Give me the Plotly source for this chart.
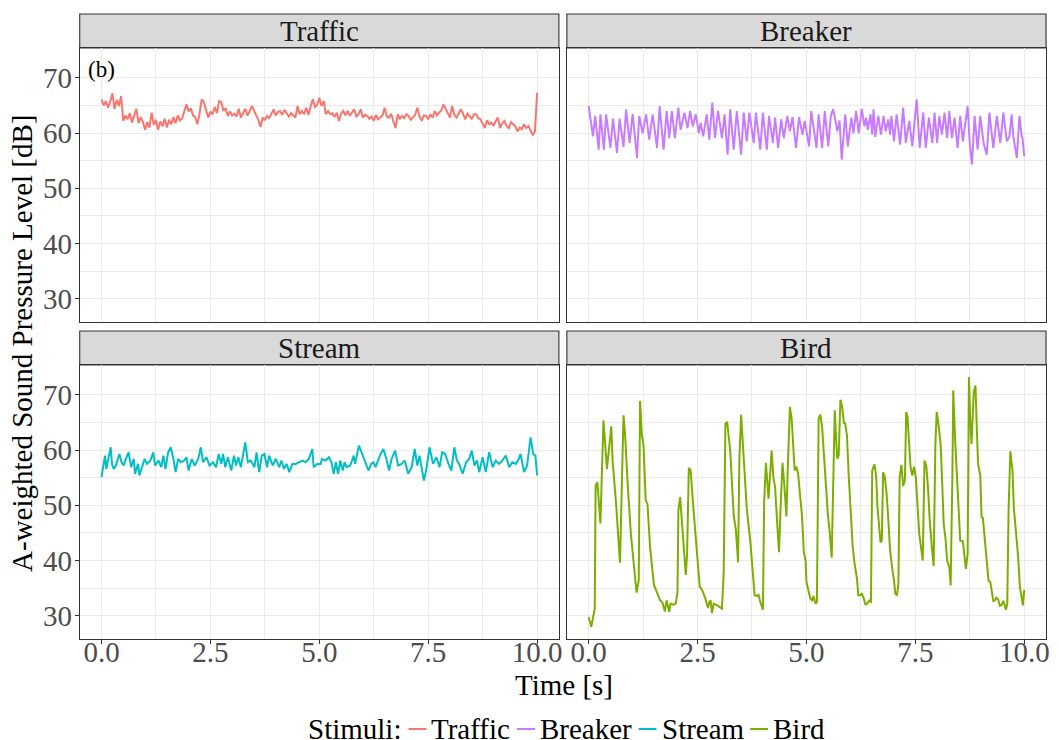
import numpy as np
import plotly.graph_objects as go

# ---------------- data ----------------
stimuli = ["Traffic", "Breaker", "Stream", "Bird"]
colors = ["#F8766D", "#C77CFF", "#00BFC4", "#7CAE00"]

traffic_t = np.round(np.linspace(0, 10, 201), 3)
traffic_v = [
    66.1, 65.0, 65.8, 64.6, 65.7, 67.2, 64.4, 66.0, 64.9, 66.7,
    62.2, 63.2, 62.5, 63.6, 61.9, 63.0, 64.4, 61.8, 62.9, 62.0,
    60.6, 62.0, 61.0, 63.7, 61.5, 62.4, 60.6, 62.1, 61.2, 62.6,
    61.0, 62.4, 61.6, 62.9, 61.8, 63.2, 62.3, 62.6, 63.8, 65.2,
    63.9, 64.5, 63.2, 62.9, 61.6, 63.5, 66.1, 65.6, 64.2, 62.8,
    63.9, 63.4, 64.7, 63.6, 65.8, 65.6, 64.0, 64.5, 63.1, 63.9,
    63.2, 63.5, 63.0, 64.4, 62.8, 63.6, 64.4, 63.2, 63.9, 64.9,
    64.0, 63.1, 62.4, 61.1, 62.8, 62.4, 63.1, 62.7, 63.6, 64.3,
    63.2, 63.8, 64.0, 63.3, 64.2, 63.7, 63.0, 63.6, 63.1, 62.8,
    64.9, 63.4, 64.0, 63.4, 64.6, 63.3, 64.8, 66.1, 64.7, 65.1,
    66.4, 64.9, 65.8, 63.4, 64.0, 63.4, 63.6, 62.9, 63.7, 62.2,
    63.5, 64.0, 63.2, 64.0, 63.1, 63.8, 64.3, 63.0, 63.4, 64.3,
    62.8, 63.3, 63.1, 62.6, 63.0, 62.2, 63.3, 62.5, 62.8, 63.2,
    64.6, 63.0, 62.8, 63.5, 62.1, 60.9, 63.4, 62.6, 63.1, 62.7,
    63.4, 63.1, 62.4, 62.8, 63.3, 64.6, 63.0, 62.2, 63.2, 63.1,
    62.5, 63.4, 62.8, 64.0, 63.2, 63.7, 64.1, 65.2, 64.4, 63.6,
    62.8, 64.9, 63.3, 62.8, 63.7, 64.3, 63.5, 62.5, 63.5, 63.1,
    62.6, 63.4, 63.4, 62.7, 62.5, 61.7, 60.9, 62.3, 61.6, 61.9,
    61.3, 62.2, 62.8, 60.9, 61.8, 62.2, 61.3, 60.9, 62.0, 61.6,
    61.2, 60.3, 61.0, 60.7, 61.6, 60.9, 61.3, 60.4, 59.7, 60.3,
    67.3,
]

breaker_t = [
    0.00, 0.10, 0.15, 0.23, 0.27, 0.35, 0.40, 0.50, 0.56, 0.65,
    0.71, 0.80, 0.86, 0.94, 1.01, 1.11, 1.16, 1.24, 1.32, 1.39,
    1.47, 1.57, 1.63, 1.72, 1.79, 1.85, 1.91, 1.98, 2.06, 2.11,
    2.20, 2.27, 2.33, 2.39, 2.46, 2.53, 2.57, 2.63, 2.71, 2.77,
    2.84, 2.90, 2.97, 3.06, 3.12, 3.19, 3.25, 3.33, 3.40, 3.50,
    3.56, 3.63, 3.69, 3.79, 3.84, 3.94, 4.00, 4.09, 4.14, 4.23,
    4.28, 4.35, 4.42, 4.48, 4.56, 4.62, 4.68, 4.76, 4.83, 4.91,
    4.96, 5.06, 5.11, 5.23, 5.28, 5.36, 5.42, 5.50, 5.56, 5.61,
    5.66, 5.71, 5.76, 5.81, 5.89, 5.95, 6.03, 6.08, 6.14, 6.20,
    6.27, 6.33, 6.37, 6.41, 6.47, 6.51, 6.54, 6.58, 6.65, 6.71,
    6.77, 6.82, 6.88, 6.92, 6.95, 7.01, 7.07, 7.15, 7.22, 7.28,
    7.36, 7.43, 7.49, 7.53, 7.60, 7.68, 7.74, 7.81, 7.89, 7.94,
    8.00, 8.05, 8.11, 8.17, 8.23, 8.28, 8.34, 8.40, 8.47, 8.53,
    8.59, 8.65, 8.70, 8.75, 8.80, 8.86, 8.93, 8.99, 9.07, 9.14,
    9.20, 9.29, 9.37, 9.45, 9.52, 9.60, 9.66, 9.71, 9.75, 9.83,
    9.89, 9.94, 9.96, 10.0,
]
breaker_v = [
    64.9, 59.4, 63.1, 57.0, 63.4, 57.0, 63.4, 57.3, 62.6, 56.4,
    62.6, 57.5, 64.3, 58.2, 63.5, 55.5, 63.1, 60.0, 63.4, 58.8,
    63.4, 57.3, 64.9, 57.0, 64.0, 59.1, 64.0, 59.1, 64.6, 60.6,
    63.7, 60.9, 64.0, 61.2, 63.4, 60.0, 61.9, 59.4, 63.4, 58.8,
    65.5, 59.1, 64.0, 59.1, 63.4, 56.1, 64.3, 57.0, 64.0, 56.1,
    63.7, 58.5, 63.7, 58.2, 63.7, 57.0, 63.7, 57.0, 63.1, 58.2,
    62.8, 57.3, 62.5, 59.1, 63.1, 60.3, 62.9, 57.3, 62.9, 59.7,
    62.2, 57.6, 64.0, 57.3, 63.4, 57.3, 64.0, 57.6, 63.1, 64.3,
    62.5, 60.3, 62.3, 55.2, 63.4, 57.6, 62.8, 60.0, 64.0, 60.0,
    64.4, 61.2, 62.8, 60.6, 63.4, 59.7, 64.3, 59.3, 63.1, 59.7,
    63.1, 60.3, 62.5, 59.7, 63.1, 58.5, 63.4, 57.9, 64.6, 58.2,
    62.2, 57.6, 62.8, 66.1, 57.3, 63.7, 57.3, 62.8, 58.2, 63.7,
    58.2, 63.1, 59.7, 63.7, 59.1, 64.0, 59.1, 62.8, 57.3, 63.1,
    58.5, 62.2, 64.9, 57.9, 54.3, 63.1, 57.0, 63.1, 58.0, 56.1,
    63.7, 57.3, 63.1, 58.2, 63.7, 58.5, 59.4, 63.4, 59.4, 55.5,
    63.1, 59.4, 59.1, 55.8,
]

stream_t = [
    0.00, 0.08, 0.11, 0.15, 0.21, 0.24, 0.28, 0.33, 0.41, 0.46,
    0.51, 0.56, 0.62, 0.68, 0.74, 0.77, 0.84, 0.87, 0.93, 0.99,
    1.04, 1.12, 1.19, 1.23, 1.31, 1.37, 1.42, 1.47, 1.53, 1.59,
    1.65, 1.70, 1.76, 1.82, 1.90, 1.95, 2.00, 2.07, 2.14, 2.22,
    2.28, 2.33, 2.41, 2.48, 2.56, 2.63, 2.69, 2.75, 2.79, 2.84,
    2.90, 2.98, 3.04, 3.09, 3.14, 3.20, 3.30, 3.36, 3.43, 3.51,
    3.56, 3.62, 3.68, 3.74, 3.80, 3.85, 3.93, 4.00, 4.08, 4.13,
    4.19, 4.25, 4.31, 4.38, 4.46, 4.53, 4.61, 4.68, 4.76, 4.84,
    4.87, 4.95, 5.03, 5.06, 5.14, 5.22, 5.28, 5.33, 5.38, 5.43,
    5.48, 5.54, 5.58, 5.63, 5.71, 5.79, 5.82, 5.91, 5.98, 6.05,
    6.13, 6.19, 6.24, 6.29, 6.39, 6.47, 6.55, 6.60, 6.66, 6.74,
    6.81, 6.89, 6.96, 7.04, 7.12, 7.19, 7.25, 7.30, 7.36, 7.40,
    7.46, 7.53, 7.61, 7.69, 7.76, 7.82, 7.89, 7.95, 8.03, 8.10,
    8.16, 8.21, 8.29, 8.37, 8.44, 8.50, 8.56, 8.62, 8.67, 8.75,
    8.82, 8.90, 8.98, 9.05, 9.13, 9.20, 9.28, 9.36, 9.43, 9.51,
    9.58, 9.62, 9.70, 9.77, 9.85, 9.91, 9.96, 10.0,
]
stream_v = [
    55.1, 59.0, 56.6, 58.4, 60.5, 57.5, 56.6, 57.2, 59.3, 57.8,
    57.2, 58.4, 59.6, 56.9, 58.4, 55.7, 57.5, 55.4, 56.9, 58.4,
    57.5, 58.1, 59.6, 57.2, 58.1, 56.9, 59.0, 56.6, 59.6, 60.5,
    58.4, 56.0, 58.4, 57.8, 58.1, 58.7, 56.3, 58.4, 57.2, 58.4,
    60.5, 57.8, 58.7, 57.2, 57.8, 56.9, 59.3, 57.5, 59.3, 56.9,
    58.7, 56.3, 59.0, 57.2, 58.7, 56.9, 61.4, 57.8, 58.1, 56.9,
    59.6, 56.0, 59.0, 59.3, 56.9, 59.0, 57.2, 58.4, 56.9, 58.1,
    56.6, 57.5, 56.0, 57.5, 57.5, 57.8, 58.1, 57.8, 58.4, 60.2,
    56.9, 57.5, 57.5, 58.4, 58.1, 58.7, 57.8, 55.7, 57.8, 55.7,
    58.1, 56.3, 57.8, 56.9, 57.2, 59.0, 57.5, 60.8, 59.3, 58.1,
    56.3, 57.5, 57.8, 56.9, 59.0, 60.2, 58.1, 56.3, 58.4, 59.9,
    57.2, 57.5, 58.1, 55.7, 56.9, 60.2, 57.2, 59.0, 56.0, 54.5,
    56.6, 60.5, 57.5, 58.7, 56.9, 59.6, 59.3, 57.8, 56.3, 60.5,
    58.1, 57.5, 55.7, 57.8, 58.4, 59.9, 57.2, 58.1, 56.0, 58.7,
    56.0, 59.6, 56.9, 58.1, 57.5, 58.1, 59.0, 56.9, 57.8, 57.5,
    58.4, 59.3, 56.0, 57.2, 62.3, 59.3, 59.0, 55.4,
]

bird_t = [
    0.00, 0.06, 0.14, 0.16, 0.20, 0.27, 0.34, 0.42, 0.52, 0.55,
    0.63, 0.72, 0.80, 0.84, 0.90, 0.97, 1.05, 1.10, 1.15, 1.18,
    1.22, 1.26, 1.31, 1.35, 1.41, 1.50, 1.58, 1.64, 1.69, 1.75,
    1.79, 1.85, 1.88, 1.94, 2.00, 2.04, 2.06, 2.10, 2.23, 2.26,
    2.30, 2.34, 2.42, 2.49, 2.55, 2.61, 2.68, 2.74, 2.77, 2.80,
    2.83, 2.87, 2.93, 2.97, 3.02, 3.06, 3.10, 3.14, 3.18, 3.25,
    3.33, 3.38, 3.43, 3.46, 3.50, 3.56, 3.63, 3.71, 3.76, 3.81,
    3.86, 3.90, 3.94, 4.00, 4.03, 4.07, 4.13, 4.20, 4.24, 4.28,
    4.32, 4.37, 4.41, 4.45, 4.49, 4.54, 4.57, 4.62, 4.66, 4.71,
    4.73, 4.77, 4.81, 4.85, 4.90, 4.94, 4.98, 5.00, 5.05, 5.09,
    5.13, 5.16, 5.21, 5.24, 5.28, 5.32, 5.36, 5.40, 5.44, 5.49,
    5.53, 5.58, 5.61, 5.65, 5.69, 5.71, 5.74, 5.78, 5.82, 5.86,
    5.89, 5.93, 5.97, 6.01, 6.06, 6.10, 6.16, 6.19, 6.23, 6.27,
    6.31, 6.35, 6.38, 6.42, 6.46, 6.48, 6.51, 6.56, 6.60, 6.63,
    6.67, 6.70, 6.73, 6.76, 6.80, 6.84, 6.88, 6.92, 6.98, 7.01,
    7.04, 7.08, 7.11, 7.14, 7.18, 7.22, 7.26, 7.29, 7.32, 7.36,
    7.39, 7.43, 7.47, 7.51, 7.54, 7.59, 7.64, 7.67, 7.71, 7.75,
    7.79, 7.83, 7.88, 7.92, 7.96, 7.99, 8.03, 8.08, 8.12, 8.15,
    8.19, 8.23, 8.28, 8.31, 8.35, 8.37, 8.41, 8.46, 8.50, 8.53,
    8.59, 8.63, 8.66, 8.70, 8.73, 8.76, 8.79, 8.84, 8.88, 8.91,
    8.94, 8.99, 9.02, 9.05, 9.10, 9.14, 9.18, 9.22, 9.26, 9.29,
    9.33, 9.36, 9.40, 9.44, 9.48, 9.52, 9.55, 9.58, 9.61, 9.64,
    9.68, 9.73, 9.76, 9.81, 9.86, 9.90, 9.95, 9.97, 10.0,
]
bird_v = [
    29.8, 28.0, 31.3, 53.6, 54.2, 46.7, 65.4, 56.6, 64.3, 58.1,
    50.3, 39.6, 66.3, 62.3, 53.3, 44.8, 38.2, 34.2, 36.4, 68.9,
    62.9, 60.8, 50.9, 50.3, 42.4, 35.5, 34.0, 32.8, 32.5, 30.8,
    32.8, 30.7, 32.2, 32.0, 32.2, 34.3, 49.1, 51.5, 37.4, 41.2,
    56.8, 56.4, 47.9, 41.2, 35.3, 34.6, 33.1, 31.4, 32.5, 32.8,
    30.5, 32.2, 32.0, 31.8, 31.5, 31.3, 37.9, 64.8, 65.1, 59.9,
    48.2, 45.5, 39.7, 58.1, 66.4, 57.5, 49.4, 43.6, 38.2, 33.7,
    33.6, 33.8, 32.5, 31.1, 50.9, 57.7, 51.2, 59.9, 55.1, 53.3,
    47.9, 41.5, 50.3, 57.7, 53.9, 48.0, 56.3, 67.8, 65.7, 56.9,
    56.3, 57.0, 55.7, 52.1, 47.9, 41.5, 40.0, 36.1, 34.3, 33.1,
    32.8, 33.6, 32.2, 32.5, 65.7, 66.4, 64.1, 59.3, 53.9, 48.5,
    45.5, 40.5, 52.1, 67.2, 60.5, 58.4, 59.0, 69.1, 67.8, 64.9,
    64.8, 62.6, 55.4, 49.7, 42.7, 39.7, 36.7, 33.7, 33.7, 34.0,
    33.3, 32.1, 32.1, 32.5, 32.9, 32.3, 56.3, 57.4, 55.4, 49.7,
    45.5, 43.3, 43.6, 56.0, 55.1, 52.1, 47.3, 41.8, 37.9, 36.4,
    34.0, 33.7, 35.8, 55.1, 57.3, 53.5, 54.5, 66.9, 66.0, 60.5,
    56.9, 55.4, 57.0, 55.1, 51.5, 44.8, 41.8, 40.0, 58.1, 57.2,
    53.3, 47.3, 42.4, 39.0, 61.1, 66.9, 64.8, 61.1, 53.3, 46.7,
    44.2, 40.0, 38.8, 35.5, 55.1, 70.8, 62.3, 53.9, 48.5, 43.6,
    43.5, 41.2, 38.5, 41.2, 73.2, 65.4, 61.1, 70.5, 71.7, 64.1,
    57.5, 55.4, 47.9, 47.7, 43.6, 39.4, 36.4, 36.1, 34.0, 32.7,
    32.8, 33.3, 33.0, 31.8, 31.9, 32.7, 31.9, 31.1, 32.2, 49.1,
    59.8, 56.3, 49.7, 45.5, 40.6, 35.2, 32.8, 31.9, 34.7,
]

x_ticks = [0, 2.5, 5, 7.5, 10]
x_ticklabels = ["0.0", "2.5", "5.0", "7.5", "10.0"]
y_ticks = [30, 40, 50, 60, 70]
y_ticklabels = ["30", "40", "50", "60", "70"]

series_t = [traffic_t, breaker_t, stream_t, bird_t]
series_v = [traffic_v, breaker_v, stream_v, bird_v]

# ---------------- layout helpers ----------------
# the page body has an 8 px margin, so the figure starts at (8, 8)
OFF = 8
W, H = 1059 - OFF, 740 - OFF
FONT = "Liberation Serif"


def px(x):
    return (x - OFF) / W


def py(y):
    return 1 - (y - OFF) / H


# panel rectangles in screen pixels: (left, right, top, bottom)
panels = [
    (80, 561, 48, 322),
    (569, 1050, 48, 322),
    (80, 561, 365, 639),
    (569, 1050, 365, 639),
]
strip_h = 34

fig = go.Figure()

for i, name in enumerate(stimuli):
    fig.add_trace(go.Scatter(
        x=series_t[i], y=series_v[i], mode="lines", name=name,
        line=dict(color=colors[i], width=2),
        xaxis="x" if i == 0 else f"x{i+1}",
        yaxis="y" if i == 0 else f"y{i+1}",
        showlegend=False,
    ))

layout = dict(
    width=W, height=H,
    margin=dict(l=0, r=0, t=0, b=0),
    paper_bgcolor="white", plot_bgcolor="white",
    showlegend=False,
    font=dict(family=FONT, color="black"),
)

shapes = []
annotations = []

for i, (l, r, t, b) in enumerate(panels):
    sfx = "" if i == 0 else str(i + 1)
    bottom_row = i >= 2
    left_col = i % 2 == 0
    layout["xaxis" + sfx] = dict(
        domain=[px(l), px(r)], anchor="y" + sfx,
        range=[-0.5, 10.5],
        tickvals=x_ticks, ticktext=x_ticklabels,
        showticklabels=bottom_row,
        ticks="outside" if bottom_row else "",
        ticklen=4, tickwidth=1, tickcolor="#333333",
        ticklabelstandoff=-17,
        tickfont=dict(family=FONT, size=29, color="#4D4D4D"),
        showgrid=True, gridcolor="#EBEBEB", gridwidth=1.2,
        minor=dict(tickvals=[1.25, 3.75, 6.25, 8.75], showgrid=True,
                   gridcolor="#EBEBEB", gridwidth=0.7, ticks=""),
        zeroline=False, showline=True, mirror=True,
        linecolor="#333333", linewidth=1.1,
    )
    layout["yaxis" + sfx] = dict(
        domain=[py(b), py(t)], anchor="x" + sfx,
        range=[25.8, 75.4],
        tickvals=y_ticks, ticktext=y_ticklabels,
        showticklabels=left_col,
        ticks="outside" if left_col else "",
        ticklen=4, tickwidth=1, tickcolor="#333333",
        ticklabelstandoff=-3,
        tickfont=dict(family=FONT, size=29, color="#4D4D4D"),
        showgrid=True, gridcolor="#EBEBEB", gridwidth=1.2,
        minor=dict(tickvals=[35, 45, 55, 65], showgrid=True,
                   gridcolor="#EBEBEB", gridwidth=0.7, ticks=""),
        zeroline=False, showline=True, mirror=True,
        linecolor="#333333", linewidth=1.1,
    )
    # strip
    shapes.append(dict(
        type="rect", xref="paper", yref="paper",
        x0=px(l), x1=px(r), y0=py(t), y1=py(t - strip_h),
        fillcolor="#D9D9D9", line=dict(color="#333333", width=1.1),
        layer="below",
    ))
    annotations.append(dict(
        text=stimuli[i], xref="paper", yref="paper",
        x=px((l + r) / 2), y=py(t - strip_h / 2),
        xanchor="center", yanchor="middle", showarrow=False,
        font=dict(family=FONT, size=29, color="#1A1A1A"),
    ))

# panel tag
annotations.append(dict(
    text="(b)", xref="paper", yref="paper", x=px(86), y=py(70),
    xanchor="left", yanchor="middle", showarrow=False,
    font=dict(family=FONT, size=23, color="black"),
))

# axis titles
annotations.append(dict(
    text="Time [s]", xref="paper", yref="paper", x=px(566), y=py(685),
    xanchor="center", yanchor="middle", showarrow=False,
    font=dict(family=FONT, size=29, color="black"),
))
annotations.append(dict(
    text="A-weighted Sound Pressure Level [dB]", xref="paper", yref="paper",
    x=px(22), y=py(343), xanchor="center", yanchor="middle",
    textangle=-90, showarrow=False,
    font=dict(family=FONT, size=29, color="black"),
))

# legend (ggplot-style, drawn compactly)
leg_y = 729
annotations.append(dict(
    text="Stimuli:", xref="paper", yref="paper", x=px(307), y=py(leg_y),
    xanchor="left", yanchor="middle", showarrow=False,
    font=dict(family=FONT, size=29, color="black"),
))
key_x = [410, 519, 641, 753]
for i, name in enumerate(stimuli):
    shapes.append(dict(
        type="line", xref="paper", yref="paper",
        x0=px(key_x[i]), x1=px(key_x[i] + 18), y0=py(leg_y), y1=py(leg_y),
        line=dict(color=colors[i], width=2),
    ))
    annotations.append(dict(
        text=name, xref="paper", yref="paper", x=px(key_x[i] + 21), y=py(leg_y),
        xanchor="left", yanchor="middle", showarrow=False,
        font=dict(family=FONT, size=29, color="black"),
    ))

layout["shapes"] = shapes
layout["annotations"] = annotations
fig.update_layout(**layout)

fig.write_html("out.html")
